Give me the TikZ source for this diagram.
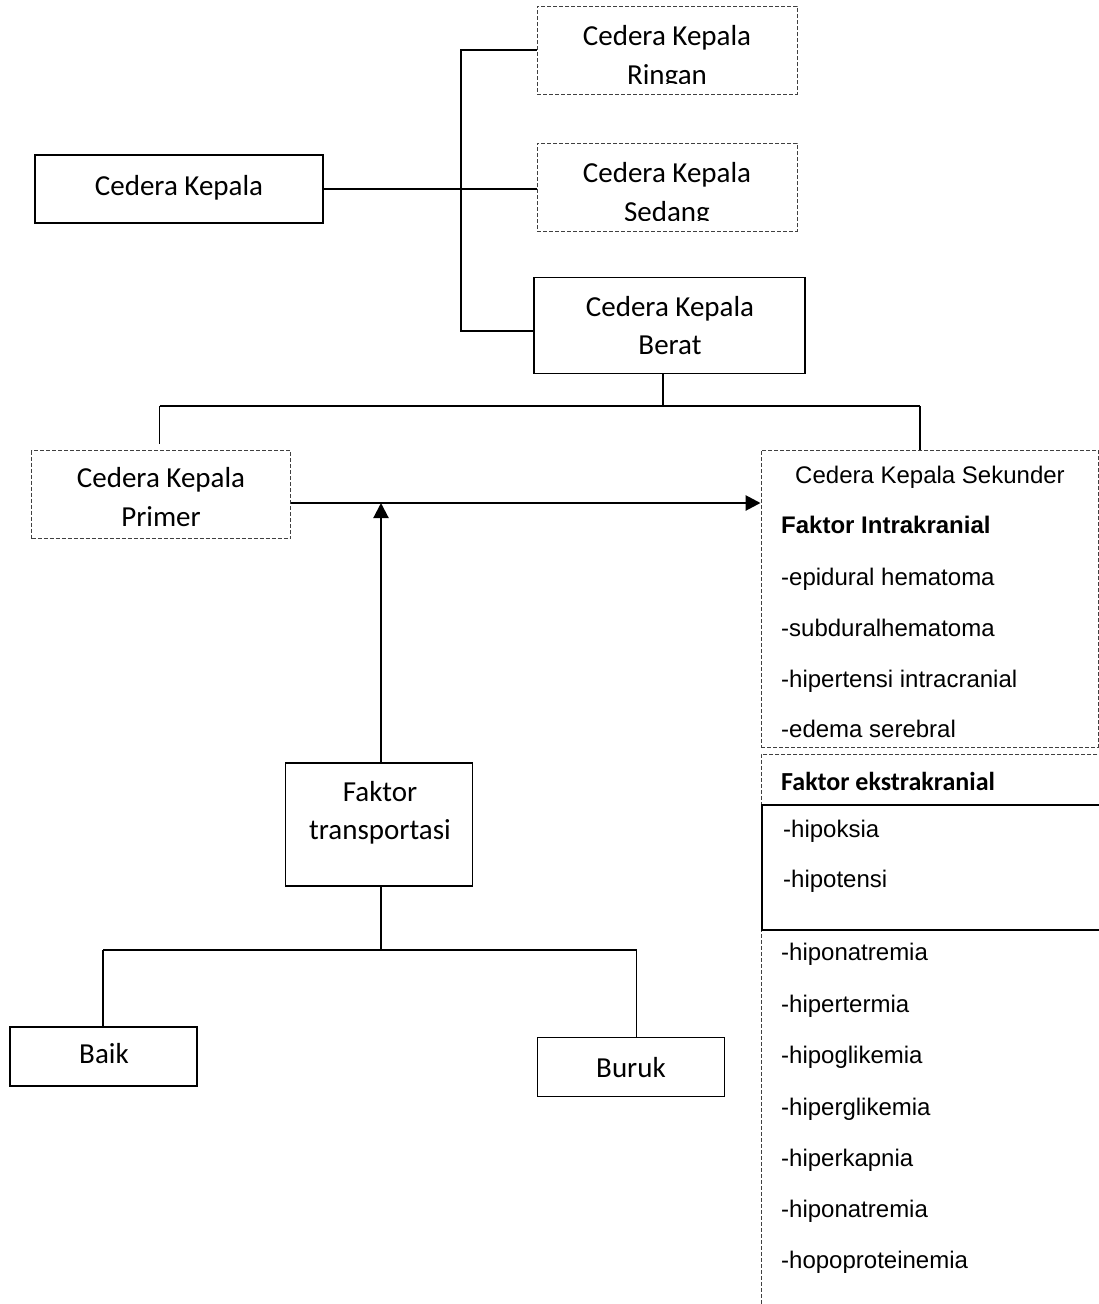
\documentclass[tikz,border=0pt]{standalone}
\usepackage{fontspec}
\setmainfont{Carlito}
\newfontfamily\arialf{Liberation Sans}
\usetikzlibrary{arrows.meta}
\begin{document}
\begin{tikzpicture}[x=1pt,y=-1pt,
  solidbox/.style={draw=black,line width=1.9pt,inner sep=0pt},
  dashbox/.style={draw=black!75,line width=0.9pt,dash pattern=on 4pt off 2pt,inner sep=0pt},
  conn/.style={line width=1.9pt},
  harr/.style={line width=2.7pt,-{Triangle[length=15pt,width=15pt]}},
  varr/.style={line width=2.1pt,-{Triangle[length=15pt,width=15pt]}},
  boxtext/.style={font=\fontsize{29}{38.5}\selectfont,align=center,inner sep=0pt,anchor=base},
  listtext/.style={font=\arialf\fontsize{24}{28}\selectfont,inner sep=0pt,anchor=base west},
  listbold/.style={font=\arialf\bfseries\fontsize{24}{28}\selectfont,inner sep=0pt,anchor=base west},
  calbold/.style={font=\bfseries\fontsize{26}{30}\selectfont,inner sep=0pt,anchor=base west}
]
\useasboundingbox (0,0) rectangle (1099,1304);

% ---- boxes ----
\node[solidbox,minimum width=288pt,minimum height=68.5pt] (ck) at (179,189) {};
\node[dashbox,minimum width=260pt,minimum height=88pt] (ringan) at (667,50) {};
\node[dashbox,minimum width=260pt,minimum height=88pt] (sedang) at (667,187) {};
\node[solidbox,minimum width=271pt,minimum height=96pt] (berat) at (669.5,325.5) {};
\node[dashbox,minimum width=259pt,minimum height=88pt] (primer) at (161,494.5) {};
\node[dashbox,minimum width=337pt,minimum height=297pt] (sekunder) at (929.5,598.5) {};
\node[dashbox,minimum width=360pt,minimum height=570pt,anchor=north west] (ekstra) at (761,753.5) {};
\node[solidbox,minimum width=360pt,minimum height=125pt,anchor=north west] (ekstrasolid) at (761,804) {};
\node[solidbox,minimum width=187pt,minimum height=123pt] (faktor) at (379,824.5) {};
\node[solidbox,minimum width=187pt,minimum height=59pt] (baik) at (103.5,1056.5) {};
\node[solidbox,minimum width=187pt,minimum height=59pt] (buruk) at (631,1067) {};

% ---- box texts (base = baseline of last line) ----
\node[boxtext] (ck-t) at (179,195) {Cedera Kepala};
\begin{scope}
  \clip (538,7) rectangle (796,83.5);
  \node[boxtext] (ringan-t) at (667,84) {Cedera Kepala\\Ringan};
\end{scope}
\begin{scope}
  \clip (538,144) rectangle (796,220);
  \node[boxtext] (sedang-t) at (667,221) {Cedera Kepala\\Sedang};
\end{scope}
\node[boxtext] (berat-t) at (670,354.5) {Cedera Kepala\\Berat};
\node[boxtext] (primer-t) at (161,526) {Cedera Kepala\\Primer};
\node[boxtext] (faktor-t) at (380,839.5) {Faktor\\transportasi};
\node[boxtext] (baik-t) at (104,1063) {Baik};
\node[boxtext] (buruk-t) at (631,1077) {Buruk};

% ---- secondary list ----
\node[listtext,anchor=base] (sek-t) at (930,483) {Cedera Kepala Sekunder};
\node[listbold] (intra) at (781,533.5) {Faktor Intrakranial};
\node[listtext] (i1) at (781,585) {-epidural hematoma};
\node[listtext] (i2) at (781,636) {-subduralhematoma};
\node[listtext] (i3) at (781,687) {-hipertensi intracranial};
\node[listtext] (i4) at (781,737) {-edema serebral};
\node[calbold] (ekstra-t) at (781,790) {Faktor ekstrakranial};
\node[listtext] (e1) at (783,837) {-hipoksia};
\node[listtext] (e2) at (783,887) {-hipotensi};
\node[listtext] (e3) at (781,960) {-hiponatremia};
\node[listtext] (e4) at (781,1012.5) {-hipertermia};
\node[listtext] (e5) at (781,1063.5) {-hipoglikemia};
\node[listtext] (e6) at (781,1115) {-hiperglikemia};
\node[listtext] (e7) at (781,1166) {-hiperkapnia};
\node[listtext] (e8) at (781,1217) {-hiponatremia};
\node[listtext] (e9) at (781,1268) {-hopoproteinemia};

% ---- connectors ----
\coordinate (bx) at (461,331);
\draw[conn] (ck.east) -- (sedang.west |- ck.east);
\draw[conn] (ringan.west) -| (bx) -- (bx -| berat.west);

\coordinate (hl) at (159.5,406);
\coordinate (hr) at (920,406);
\draw[conn] (berat.south -| 663,0) -- (663,406);
\draw[conn] (hl) -- (hr);
\draw[conn] (hl) -- ([yshift=6pt]hl |- primer.north);
\draw[conn] (hr) -- (hr |- sekunder.north);

\coordinate (ay) at (0,503);
\draw[harr] (primer.east |- ay) -- (sekunder.west |- ay);
\draw[varr] (381,763) coordinate (fa) (fa |- faktor.north) -- (fa |- ay);

\coordinate (bl) at (103,950);
\coordinate (br) at (636.5,950);
\draw[conn] (faktor.south -| 381,0) -- (381,950);
\draw[conn] (bl) -- (br);
\draw[conn] (bl) -- (bl |- baik.north);
\draw[conn] (br) -- (br |- buruk.north);
\end{tikzpicture}
\end{document}
